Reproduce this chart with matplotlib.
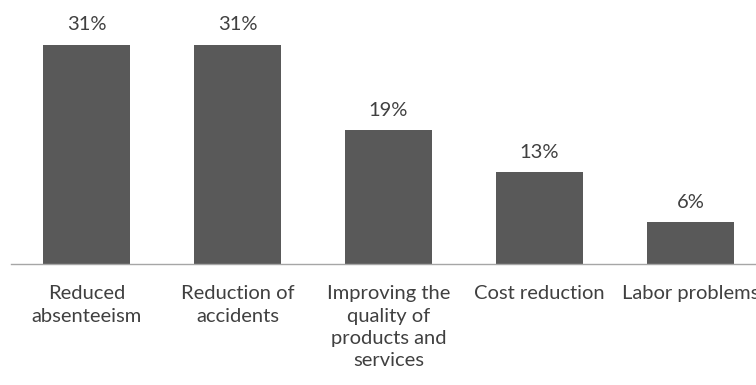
import matplotlib.pyplot as plt

categories = [
    "Reduced\nabsenteeism",
    "Reduction of\naccidents",
    "Improving the\nquality of\nproducts and\nservices",
    "Cost reduction",
    "Labor problems",
]
values = [31, 31, 19, 13, 6]

bar_color = "#595959"
text_color = "#404040"

plt.rcParams["font.family"] = ["Lato", "DejaVu Sans"]

fig = plt.figure(figsize=(7.56, 3.85), dpi=100)
# axes runs slightly past the right edge, so the last label is cut off
ax = fig.add_axes([0.0146, 0.313, 0.9987, 0.608])

x = range(len(categories))
bars = ax.bar(x, values, width=0.576, color=bar_color)

for rect, v in zip(bars, values):
    ax.annotate(f"{v}%", (rect.get_x() + rect.get_width() / 2, v),
                xytext=(0, 8), textcoords="offset points",
                ha="center", va="bottom", fontsize=14.5, color=text_color)

ax.set_xlim(-0.5, 4.5)
ax.set_ylim(0, 33)
ax.set_xticks(list(x))
ax.set_xticklabels(categories, fontsize=14.5, color=text_color, linespacing=1.38)
ax.tick_params(axis="x", length=0, pad=15)
ax.set_yticks([])

for side in ["top", "right", "left"]:
    ax.spines[side].set_visible(False)
ax.spines["bottom"].set_color("#a6a6a6")
ax.spines["bottom"].set_linewidth(1.0)

fig.savefig("out.png", dpi=100)
